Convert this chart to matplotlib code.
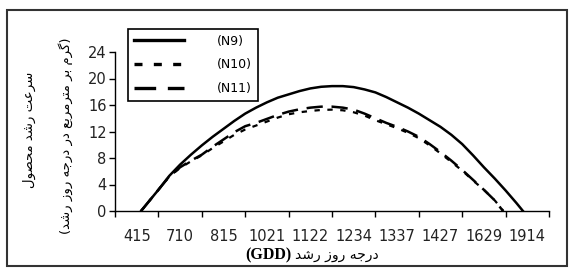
import matplotlib
matplotlib.use('Agg')
import matplotlib.pyplot as plt
from matplotlib.patches import Rectangle

# category axis (GDD values)
categories = ['415', '710', '815', '1021', '1122', '1234', '1337', '1427', '1629', '1914']

# curve readings, x in category units
pos_n9 = [0.1, 0.25, 0.5, 0.75, 1.0, 1.25, 1.5, 1.75, 2.0, 2.25, 2.5, 2.75, 3.0, 3.25, 3.5, 3.75, 4.0, 4.25,
          4.5, 4.75, 5.0, 5.25, 5.5, 5.75, 6.0, 6.25, 6.5, 6.75, 7.0, 7.25, 7.5, 7.75, 8.0, 8.25, 8.5, 8.75, 8.9]
n9 = [0.0, 1.2, 3.2, 5.3, 7.0, 8.5, 9.9, 11.2, 12.4, 13.6, 14.7, 15.6, 16.4, 17.1, 17.6, 18.1, 18.5, 18.75,
      18.85, 18.85, 18.7, 18.35, 17.9, 17.2, 16.4, 15.6, 14.7, 13.7, 12.7, 11.5, 10.1, 8.4, 6.6, 4.9, 3.1, 1.2, 0.0]

pos_n10 = [0.1, 0.25, 0.5, 0.75, 1.0, 1.25, 1.5, 1.75, 2.0, 2.25, 2.5, 2.75, 3.0, 3.25, 3.5, 3.75, 4.0, 4.25,
           4.5, 4.75, 5.0, 5.25, 5.5, 5.75, 6.0, 6.25, 6.5, 6.75, 7.0, 7.25, 7.5, 7.75, 8.0, 8.25, 8.45]
n10 = [0.0, 1.2, 3.2, 5.2, 6.5, 7.5, 8.4, 9.5, 10.5, 11.5, 12.3, 12.9, 13.5, 14.1, 14.6, 14.9, 15.1, 15.25,
       15.3, 15.2, 14.9, 14.4, 13.7, 13.1, 12.5, 11.8, 11.0, 9.9, 8.7, 7.4, 6.1, 4.6, 3.2, 1.6, 0.0]

pos_n11 = [0.1, 0.25, 0.5, 0.75, 1.0, 1.25, 1.5, 1.75, 2.0, 2.25, 2.5, 2.75, 3.0, 3.25, 3.5, 3.75, 4.0, 4.25,
           4.5, 4.75, 5.0, 5.25, 5.5, 5.75, 6.0, 6.25, 6.5, 6.75, 7.0, 7.25, 7.5, 7.75, 8.0, 8.25, 8.44]
n11 = [0.0, 1.2, 3.2, 5.2, 6.6, 7.6, 8.5, 9.7, 10.8, 11.9, 12.8, 13.3, 13.9, 14.5, 15.0, 15.35, 15.6, 15.75,
       15.75, 15.6, 15.3, 14.7, 14.0, 13.3, 12.7, 12.0, 11.2, 10.1, 8.9, 7.6, 6.2, 4.7, 3.2, 1.6, 0.0]

labels = ['(N9)', '(N10)', '(N11)']
yticks = [0, 4, 8, 12, 16, 20, 24]

ylabel1 = 'سرعت رشد محصول'
ylabel2 = '(گرم بر مترمربع در درجه روز رشد)'
xlabel = 'درجه روز رشد'

# simple arabic shaping (presentation forms) + visual order
FORMS = {
    'ا': ('\uFE8D', '\uFE8E', None, None),
    'ب': ('\uFE8F', '\uFE90', '\uFE91', '\uFE92'),
    'ت': ('\uFE95', '\uFE96', '\uFE97', '\uFE98'),
    'ج': ('\uFE9D', '\uFE9E', '\uFE9F', '\uFEA0'),
    'ح': ('\uFEA1', '\uFEA2', '\uFEA3', '\uFEA4'),
    'د': ('\uFEA9', '\uFEAA', None, None),
    'ر': ('\uFEAD', '\uFEAE', None, None),
    'ز': ('\uFEAF', '\uFEB0', None, None),
    'س': ('\uFEB1', '\uFEB2', '\uFEB3', '\uFEB4'),
    'ش': ('\uFEB5', '\uFEB6', '\uFEB7', '\uFEB8'),
    'ص': ('\uFEB9', '\uFEBA', '\uFEBB', '\uFEBC'),
    'ع': ('\uFEC9', '\uFECA', '\uFECB', '\uFECC'),
    'ل': ('\uFEDD', '\uFEDE', '\uFEDF', '\uFEE0'),
    'م': ('\uFEE1', '\uFEE2', '\uFEE3', '\uFEE4'),
    'ه': ('\uFEE9', '\uFEEA', '\uFEEB', '\uFEEC'),
    'و': ('\uFEED', '\uFEEE', None, None),
    'گ': ('\uFB92', '\uFB93', '\uFB94', '\uFB95'),
}

def shape(s):
    out = []
    for i, ch in enumerate(s):
        if ch not in FORMS:
            out.append(ch)
            continue
        prev = s[i-1] if i > 0 else ''
        nxt = s[i+1] if i+1 < len(s) else ''
        jp = prev in FORMS and FORMS[prev][2] is not None
        jn = FORMS[ch][2] is not None and nxt in FORMS
        f = FORMS[ch]
        if jp and jn:
            out.append(f[3])
        elif jp:
            out.append(f[1])
        elif jn:
            out.append(f[2])
        else:
            out.append(f[0])
    vis = ''.join(out)[::-1]
    return vis.translate(str.maketrans('()', ')('))

plt.rcParams['font.family'] = ['DejaVu Sans']

fig = plt.figure(figsize=(5.75, 2.77), dpi=100)
ax = fig.add_axes([115/575, 1-211/277, 434/575, 159/277])

ax.plot(pos_n9, n9, color='black', lw=1.8, ls='-', label=labels[0])
ax.plot(pos_n10, n10, color='black', lw=1.6, ls=(0, (2.4, 3.4)), label=labels[1])
ax.plot(pos_n11, n11, color='black', lw=1.8, ls=(0, (6.5, 3.5)), label=labels[2])

ax.set_xlim(-0.5, len(categories) - 0.5)
ax.set_ylim(0, 24)
ax.set_yticks(yticks)
ax.set_xticks([i - 0.5 for i in range(len(categories) + 1)])
ax.set_xticklabels([])
ax.set_xticks(range(len(categories)), minor=True)
ax.set_xticklabels(categories, minor=True, fontsize=10.5, color='#222222')
ax.tick_params(axis='x', which='minor', length=0, pad=13)
ax.tick_params(axis='x', which='major', length=4, width=1, direction='out')
ax.tick_params(axis='y', length=4, width=1, pad=2, labelsize=10.5, labelcolor='#222222')
for s in ['top', 'right']:
    ax.spines[s].set_visible(False)
for s in ['left', 'bottom']:
    ax.spines[s].set_linewidth(1)

leg = ax.legend(loc='upper left', bbox_to_anchor=(128/575, 1-29/277), bbox_transform=fig.transFigure,
                fontsize=9, handlelength=4.0, handletextpad=2.7, labelspacing=0.85,
                borderpad=0.45, borderaxespad=0, fancybox=False, framealpha=1)
leg.get_frame().set_edgecolor('black')
leg.get_frame().set_linewidth(1.2)
for ln in leg.get_lines():
    ln.set_linewidth(2.4)

fig.text(29/575, 1-130/277, shape(ylabel1), rotation=90, ha='center', va='center', fontsize=9.5)
fig.text(66/575, 1-136/277, shape(ylabel2), rotation=90, ha='center', va='center', fontsize=9.5)

fig.text(291/575, 1-255/277, '(GDD)', ha='right', va='center', fontsize=11.5,
         family='Liberation Serif', weight='bold')
fig.text(295/575, 1-255/277, shape(xlabel), ha='left', va='center', fontsize=10)

fig.patches.append(Rectangle((7/575, 1-266/277), 560/575, 256/277, transform=fig.transFigure,
                             fill=False, ec='#333333', lw=1.5))

fig.savefig('out.png', dpi=100)
